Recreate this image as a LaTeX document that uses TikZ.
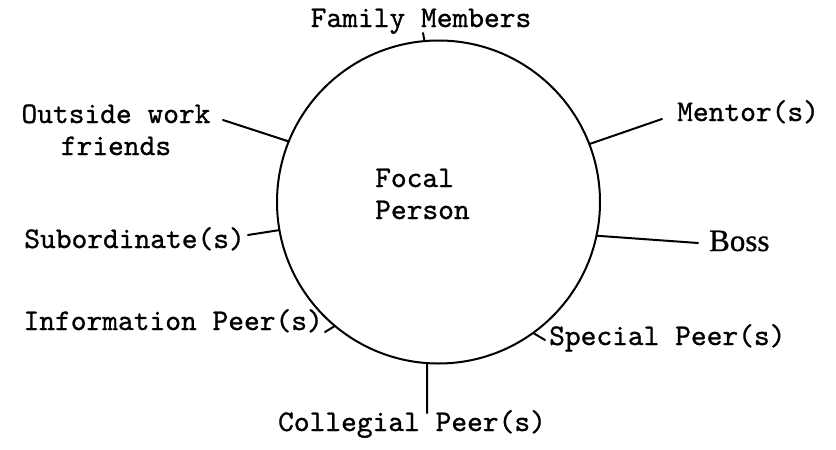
\documentclass[tikz,border=0pt]{standalone}
\usepackage{fontspec}
\newfontfamily\tw{lmmono10-regular}[Extension=.otf, FakeBold=0.9]
\newfontfamily\bossfont{Liberation Serif}[FakeBold=0.8]
\begin{document}
\begin{tikzpicture}[x=1pt,y=-1pt,
  lbl/.style={font=\tw\fontsize{30}{32}\selectfont, inner sep=0pt},
  conn/.style={line width=2pt, line cap=round}]
\useasboundingbox (0,0) rectangle (836,450);
\node[circle, draw, line width=2pt, minimum size=323pt, inner sep=0pt] (focal) at (438.5,202) {};
\node[lbl, align=left, anchor=base west] (ftext) at (375,219) {Focal\\Person};
% labels
\node[lbl, anchor=base] (family) at (421,27) {Family Members};
\node[lbl, align=center, anchor=base] (outside) at (116,155) {Outside work\\friends};
\node[lbl, anchor=base west] (mentor) at (677,121) {Mentor(s)};
\node[font=\bossfont\fontsize{31}{32}\selectfont, inner sep=0pt, anchor=base west] (boss) at (709,251) {Boss};
\node[lbl, anchor=base east] (sub) at (245,248) {Subordinate(s)};
\node[lbl, anchor=base east] (info) at (323,330) {Information Peer(s)};
\node[lbl, anchor=base west] (special) at (549,345) {Special Peer(s)};
\node[lbl, anchor=base] (coll) at (412,431) {Collegial Peer(s)};
% free ends
\coordinate (cfam) at (423,33);
\coordinate (cout) at (223,120);
\coordinate (cmen) at (662,119);
\coordinate (cboss) at (698,243);
\coordinate (csub) at (248,235);
\coordinate (cinfo) at (325,332);
\coordinate (cspec) at (545,340);
\coordinate (ccoll) at (427,413);
% connectors
\draw[conn] (focal.95.5) -- (cfam);
\draw[conn] (focal.158.9) -- (cout);
\draw[conn] (focal.21.3) -- (cmen);
\draw[conn] (focal.-12.8) -- (cboss);
\draw[conn] (focal.190.6) -- (csub);
\draw[conn] (focal.230.6) -- (cinfo);
\draw[conn] (focal.-54.6) -- (cspec);
\draw[conn] (focal.-94) -- (ccoll);
\end{tikzpicture}
\end{document}
